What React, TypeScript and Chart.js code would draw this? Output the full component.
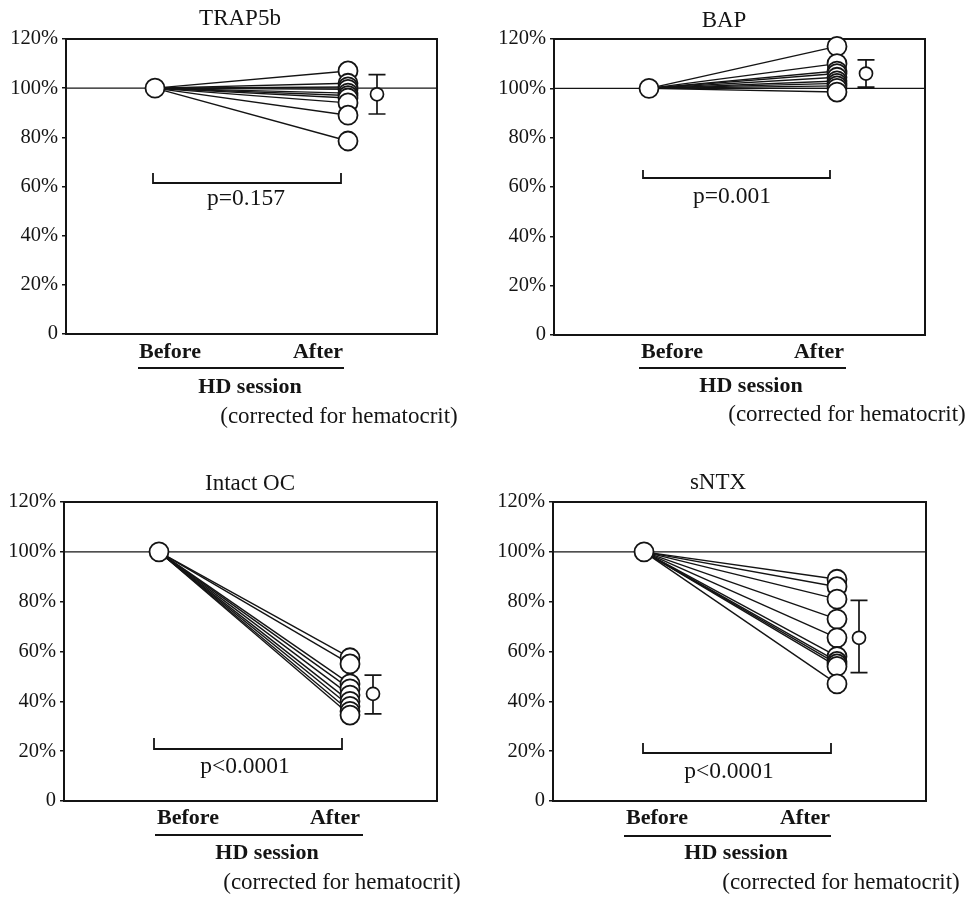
import React, { useEffect, useRef } from 'react';
import { Chart, registerables } from 'chart.js';

Chart.register(...registerables);

// ---- values (percent of the pre-dialysis level) ----
const panelTitles = ['TRAP5b', 'BAP', 'Intact OC', 'sNTX'];
const pValueLabels = ['p=0.157', 'p=0.001', 'p<0.0001', 'p<0.0001'];
const timeLabels = ['Before', 'After'];
const sessionLabel = 'HD session';
const noteLabel = '(corrected for hematocrit)';
const yTickValues = [0, 20, 40, 60, 80, 100, 120];
const baselinePct = 100;

const trap5bAfter = [107, 102, 100.5, 99.5, 98, 97, 96, 94, 89, 78.5];
const bapAfter = [117, 110, 107, 106, 104.5, 103, 102, 101, 100, 98.5];
const intactOcAfter = [57.5, 55, 47, 45, 42.5, 40, 38, 36, 34.5];
const sntxAfter = [89, 86, 81, 73, 65.5, 58, 56, 55, 54, 47];

// mean, lower limit, upper limit
const trap5bSummary = [97.5, 89.5, 105.5];
const bapSummary = [106, 100.5, 111.5];
const intactOcSummary = [43, 35, 50.5];
const sntxSummary = [65.5, 51.5, 80.5];

const afterValues = [trap5bAfter, bapAfter, intactOcAfter, sntxAfter];
const summaries = [trap5bSummary, bapSummary, intactOcSummary, sntxSummary];

// ---- page layout (page pixel coordinates) ----
type Layout = {
  left: number; top: number; width: number; height: number;
  plot: { l: number; t: number; r: number; b: number };
  xBefore: number; xAfter: number; xSummary: number;
  title: [number, number];
  p: [number, number];
  bracket: [number, number, number, number];
  before: [number, number];
  after: [number, number];
  underline: [number, number, number];
  session: [number, number];
  note: [number, number];
};

const layouts: Layout[] = [
  {
    left: 0, top: 0, width: 480, height: 448,
    plot: { l: 66, t: 39, r: 437, b: 334 },
    xBefore: 155, xAfter: 348, xSummary: 377,
    title: [240, 19], p: [246, 199], bracket: [153, 341, 183, 173],
    before: [170, 352], after: [318, 352], underline: [138, 344, 368],
    session: [250, 387], note: [339, 417],
  },
  {
    left: 480, top: 0, width: 489, height: 448,
    plot: { l: 554, t: 39, r: 925, b: 335 },
    xBefore: 649, xAfter: 837, xSummary: 866,
    title: [724, 21], p: [732, 197], bracket: [643, 830, 178, 170],
    before: [672, 352], after: [819, 352], underline: [639, 846, 368],
    session: [751, 386], note: [847, 415],
  },
  {
    left: 0, top: 448, width: 480, height: 449,
    plot: { l: 64, t: 502, r: 437, b: 801 },
    xBefore: 159, xAfter: 350, xSummary: 373,
    title: [250, 484], p: [245, 767], bracket: [154, 342, 749, 738],
    before: [188, 818], after: [335, 818], underline: [155, 363, 835],
    session: [267, 853], note: [342, 883],
  },
  {
    left: 480, top: 448, width: 489, height: 449,
    plot: { l: 553, t: 502, r: 926, b: 801 },
    xBefore: 644, xAfter: 837, xSummary: 859,
    title: [718, 483], p: [729, 772], bracket: [643, 831, 753, 743],
    before: [657, 818], after: [805, 818], underline: [624, 831, 836],
    session: [736, 853], note: [841, 883],
  },
];

const INK = '#141414';
const SERIF = '"Liberation Serif", "Times New Roman", serif';

function Panel({ index }: { index: number }) {
  const ref = useRef<HTMLCanvasElement | null>(null);
  const lay = layouts[index];

  useEffect(() => {
    if (!ref.current) return;
    const after = afterValues[index];
    const [mean, lo, hi] = summaries[index];
    const span = lay.xAfter - lay.xBefore;
    const xMin = -(lay.xBefore - lay.plot.l) / span;
    const xMax = (lay.plot.r - lay.xBefore) / span;
    const xSummary = (lay.xSummary - lay.xBefore) / span;
    const ox = lay.left;
    const oy = lay.top;

    // one line per patient, from the baseline to the post-session value
    const lineSets = after.map((v) => ({
      type: 'line' as const,
      data: [{ x: 0, y: baselinePct }, { x: 1, y: v }],
      borderColor: INK,
      borderWidth: 1.4,
      pointRadius: 0,
      fill: false,
      clip: false as any,
      order: 2,
    }));

    // open circles drawn over the lines
    const pointSet = {
      type: 'line' as const,
      data: [{ x: 0, y: baselinePct }, ...after.map((v) => ({ x: 1, y: v }))],
      showLine: false,
      pointRadius: 9.5,
      pointBackgroundColor: '#ffffff',
      pointBorderColor: INK,
      pointBorderWidth: 1.8,
      clip: false as any,
      order: 0,
    };

    const framePlugin = {
      id: 'frame',
      beforeDatasetsDraw(chart: any) {
        const { ctx, chartArea: a, scales } = chart;
        const y100 = scales.y.getPixelForValue(baselinePct);
        ctx.save();
        ctx.strokeStyle = INK;
        ctx.lineWidth = 1.3;
        ctx.beginPath();
        ctx.moveTo(a.left, y100);
        ctx.lineTo(a.right, y100);
        ctx.stroke();
        ctx.lineWidth = 2;
        ctx.strokeRect(a.left, a.top, a.right - a.left, a.bottom - a.top);
        ctx.restore();
      },
      afterDatasetsDraw(chart: any) {
        const { ctx, scales } = chart;
        const x = scales.x.getPixelForValue(xSummary);
        const yM = scales.y.getPixelForValue(mean);
        const yL = scales.y.getPixelForValue(lo);
        const yH = scales.y.getPixelForValue(hi);
        ctx.save();
        ctx.strokeStyle = INK;
        ctx.lineWidth = 1.7;
        ctx.beginPath();
        ctx.moveTo(x, yL);
        ctx.lineTo(x, yH);
        ctx.moveTo(x - 8.5, yL);
        ctx.lineTo(x + 8.5, yL);
        ctx.moveTo(x - 8.5, yH);
        ctx.lineTo(x + 8.5, yH);
        ctx.stroke();
        ctx.beginPath();
        ctx.arc(x, yM, 6.5, 0, Math.PI * 2);
        ctx.fillStyle = '#ffffff';
        ctx.fill();
        ctx.stroke();
        ctx.restore();
      },
    };

    const textPlugin = {
      id: 'panelText',
      afterDraw(chart: any) {
        const { ctx } = chart;
        ctx.save();
        ctx.fillStyle = INK;
        ctx.strokeStyle = INK;
        ctx.textAlign = 'center';
        ctx.textBaseline = 'middle';

        ctx.font = `23px ${SERIF}`;
        ctx.fillText(panelTitles[index], lay.title[0] - ox, lay.title[1] - oy);
        ctx.fillText(noteLabel, lay.note[0] - ox, lay.note[1] - oy);
        ctx.font = `23.5px ${SERIF}`;
        ctx.fillText(pValueLabels[index], lay.p[0] - ox, lay.p[1] - oy);

        // significance bracket
        const [bx1, bx2, by, byTop] = lay.bracket;
        ctx.lineWidth = 1.8;
        ctx.beginPath();
        ctx.moveTo(bx1 - ox, byTop - oy);
        ctx.lineTo(bx1 - ox, by - oy);
        ctx.lineTo(bx2 - ox, by - oy);
        ctx.lineTo(bx2 - ox, byTop - oy);
        ctx.stroke();

        ctx.font = `bold 22px ${SERIF}`;
        ctx.fillText(timeLabels[0], lay.before[0] - ox, lay.before[1] - oy);
        ctx.fillText(timeLabels[1], lay.after[0] - ox, lay.after[1] - oy);
        ctx.fillText(sessionLabel, lay.session[0] - ox, lay.session[1] - oy);

        const [ux1, ux2, uy] = lay.underline;
        ctx.lineWidth = 2;
        ctx.beginPath();
        ctx.moveTo(ux1 - ox, uy - oy);
        ctx.lineTo(ux2 - ox, uy - oy);
        ctx.stroke();
        ctx.restore();
      },
    };

    const chart = new Chart(ref.current, {
      type: 'line',
      data: { datasets: [pointSet as any, ...(lineSets as any[])] },
      options: {
        animation: false,
        responsive: false,
        maintainAspectRatio: false,
        events: [],
        layout: {
          padding: {
            left: 0,
            top: lay.plot.t - lay.top,
            right: lay.left + lay.width - lay.plot.r,
            bottom: lay.top + lay.height - lay.plot.b,
          },
        },
        plugins: {
          legend: { display: false },
          tooltip: { enabled: false },
          title: { display: false },
        },
        scales: {
          x: { type: 'linear', min: xMin, max: xMax, display: false },
          y: {
            type: 'linear',
            min: 0,
            max: 120,
            afterFit: (s: any) => {
              s.width = lay.plot.l - lay.left;
            },
            afterBuildTicks: (s: any) => {
              s.ticks = yTickValues.map((v) => ({ value: v }));
            },
            ticks: {
              color: INK,
              padding: 4,
              font: { family: SERIF, size: 20.5 },
              callback: (v: any) => (Number(v) === 0 ? '0' : `${v}%`),
            },
            grid: {
              drawOnChartArea: false,
              drawTicks: true,
              tickLength: 4,
              color: INK,
              lineWidth: 1.5,
            },
            border: { display: false },
          },
        },
      },
      plugins: [framePlugin, textPlugin],
    });

    return () => chart.destroy();
  }, [index]);

  return (
    <canvas
      ref={ref}
      width={lay.width}
      height={lay.height}
      style={{
        position: 'absolute',
        left: lay.left,
        top: lay.top,
        width: lay.width,
        height: lay.height,
      }}
    />
  );
}

export default function App() {
  return (
    <div
      style={{
        position: 'absolute',
        left: 0,
        top: 0,
        width: 969,
        height: 897,
        background: '#ffffff',
        overflow: 'hidden',
      }}
    >
      {layouts.map((_, i) => (
        <Panel key={i} index={i} />
      ))}
    </div>
  );
}
